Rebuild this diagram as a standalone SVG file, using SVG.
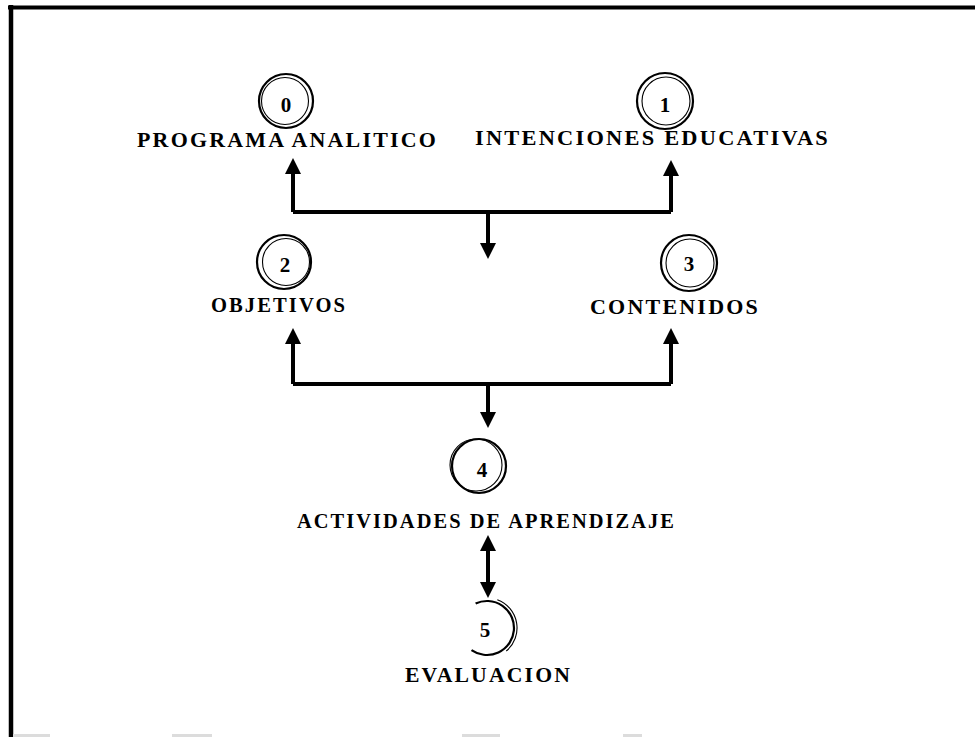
<svg xmlns="http://www.w3.org/2000/svg" width="975" height="737" viewBox="0 0 975 737">
  <style>
    .lbl { font-family: "Liberation Serif", "Times New Roman", serif; font-weight: bold; font-size: 20px; letter-spacing: 2px; fill: #000; }
    .num { font-family: "Liberation Serif", "Times New Roman", serif; font-weight: bold; font-size: 21px; fill: #000; text-anchor: middle; }
    .ring-o { fill: none; stroke: #000; stroke-width: 2.2; }
    .ring-i { fill: none; stroke: #000; stroke-width: 1.1; }
    .link { fill: none; stroke: #000; stroke-width: 4; stroke-linejoin: miter; }
    .arr { marker-end: url(#head); }
    .arr2 { marker-start: url(#head); marker-end: url(#head); }
  </style>
  <defs>
    <marker id="head" viewBox="0 0 16 16" refX="4" refY="8" markerWidth="16" markerHeight="16" markerUnits="userSpaceOnUse" orient="auto-start-reverse">
      <path d="M0,0 L16,8 L0,16 Z" fill="#000"/>
    </marker>
  </defs>

  <rect width="975" height="737" fill="#fff"/>

  <!-- frame -->
  <g id="frame">
    <line x1="8" y1="7.5" x2="975" y2="7.5" stroke="#000" stroke-width="4"/>
    <line x1="11" y1="5" x2="11" y2="737" stroke="#000" stroke-width="4.5"/>
    <g fill="#dcdcdc">
      <rect x="13" y="734" width="37" height="3"/>
      <rect x="172" y="734" width="40" height="3"/>
      <rect x="462" y="734" width="38" height="3"/>
      <rect x="623" y="734" width="19" height="3"/>
    </g>
  </g>

  <!-- connectors -->
  <g id="connectors">
    <path class="link" d="M293,212 H671"/>
    <path class="link arr" d="M293,212 V170"/>
    <path class="link arr" d="M671,212 V172"/>
    <path class="link arr" d="M488,212 V247"/>

    <path class="link" d="M293,384 H671"/>
    <path class="link arr" d="M293,384 V340"/>
    <path class="link arr" d="M671,384 V340"/>
    <path class="link arr" d="M488,384 V416"/>

    <path class="link arr2" d="M488,547 V586"/>
  </g>

  <!-- nodes -->
  <g id="node-0">
    <circle class="ring-o" cx="286" cy="101" r="27"/>
    <circle class="ring-i" cx="285" cy="101" r="23.5"/>
    <text class="num" x="286" y="112">0</text>
    <text class="lbl" x="137" y="147" textLength="301" lengthAdjust="spacingAndGlyphs">PROGRAMA ANALITICO</text>
  </g>

  <g id="node-1">
    <circle class="ring-o" cx="665" cy="101" r="28"/>
    <circle class="ring-i" cx="666" cy="101" r="24"/>
    <text class="num" x="665" y="112">1</text>
    <text class="lbl" x="475" y="145" textLength="355" lengthAdjust="spacingAndGlyphs">INTENCIONES EDUCATIVAS</text>
  </g>

  <g id="node-2">
    <circle class="ring-o" cx="284" cy="262" r="27"/>
    <circle class="ring-i" cx="286" cy="262" r="23.5"/>
    <text class="num" x="285" y="272">2</text>
    <text class="lbl" x="211" y="312" textLength="136" lengthAdjust="spacingAndGlyphs">OBJETIVOS</text>
  </g>

  <g id="node-3">
    <circle class="ring-o" cx="689" cy="263" r="28"/>
    <circle class="ring-i" cx="690" cy="263" r="24"/>
    <text class="num" x="689" y="271">3</text>
    <text class="lbl" x="590" y="314" textLength="170" lengthAdjust="spacingAndGlyphs">CONTENIDOS</text>
  </g>

  <g id="node-4">
    <circle class="ring-o" cx="479" cy="466" r="27"/>
    <circle class="ring-i" cx="476" cy="465" r="26"/>
    <text class="num" x="482" y="477">4</text>
    <text class="lbl" x="297" y="528" textLength="379" lengthAdjust="spacingAndGlyphs">ACTIVIDADES DE APRENDIZAJE</text>
  </g>

  <g id="node-5">
    <!-- open ring: from the top, round the right side, to the lower left -->
    <path class="ring-o" d="M475.6,603.5 A27,27 0 1 1 471.5,650.1"/>
    <path class="ring-i" d="M497.3,599.8 A30,30 0 0 1 506.3,651"/>
    <text class="num" x="485" y="637">5</text>
    <text class="lbl" x="405" y="682" textLength="167" lengthAdjust="spacingAndGlyphs">EVALUACION</text>
  </g>
</svg>
